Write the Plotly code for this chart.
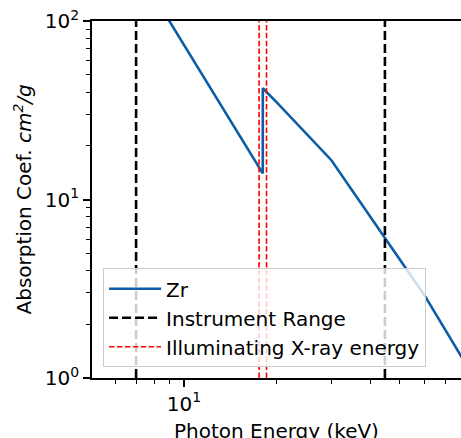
import plotly.graph_objects as go
import numpy as np

# Zr absorption curve
energy_kev = [8, 10, 15, 17.99, 18.0, 20, 30, 40, 50, 60, 80]
absorption = [138, 73.5, 23.5, 14.0, 42.0, 34.9, 16.6, 8.1, 4.6, 2.91, 1.27]

instrument_range = [7.0, 44.7]
illum_energy = [17.5, 18.5]

y_span = [1, 100]
x_range = [5.04, 78.8]

ytick_vals = [1, 10, 100]
ytick_text = ["10<sup>0</sup>", "10<sup>1</sup>", "10<sup>2</sup>"]
xtick_vals = [10]
xtick_text = ["10<sup>1</sup>"]
xminor = [6, 7, 8, 9, 20, 30, 40, 50, 60, 70]
yminor = [2, 3, 4, 5, 6, 7, 8, 9, 20, 30, 40, 50, 60, 70, 80, 90]

FONT = "DejaVu Sans"

fig = go.Figure()
fig.add_trace(go.Scatter(x=energy_kev, y=absorption, mode="lines", name="Zr",
                         line=dict(color="#0C5DA5", width=2.6)))
for i, e in enumerate(instrument_range):
    fig.add_trace(go.Scatter(x=[e, e], y=y_span, mode="lines", name="Instrument Range",
                             line=dict(color="black", width=2.6, dash="9px,4px"),
                             showlegend=(i == 0)))
for i, e in enumerate(illum_energy):
    fig.add_trace(go.Scatter(x=[e, e], y=y_span, mode="lines", name="Illuminating X-ray energy",
                             line=dict(color="red", width=1.6, dash="5.5px,2.4px"),
                             showlegend=(i == 0)))

axis_common = dict(
    type="log", showgrid=False, zeroline=False, showline=True, linecolor="black",
    linewidth=1.6, ticks="outside", ticklen=7, tickwidth=1.6, tickcolor="black",
    tickfont=dict(family=FONT, size=20, color="black"),
)

fig.update_xaxes(range=[np.log10(x_range[0]), np.log10(x_range[1])], tickmode="array",
                 tickvals=xtick_vals, ticktext=xtick_text, mirror=True,
                 minor=dict(tickvals=xminor, ticklen=4, tickwidth=1.2, tickcolor="black", ticks="outside"),
                 **axis_common)
fig.update_yaxes(range=[0, 2], tickmode="array", tickvals=ytick_vals, ticktext=ytick_text,
                 minor=dict(tickvals=yminor, ticklen=4, tickwidth=1.2, tickcolor="black", ticks="outside"),
                 **axis_common)

fig.add_annotation(text="Photon Energy (keV)", xref="paper", yref="paper", x=0.5, y=0,
                   yshift=-39, xanchor="center", yanchor="top", showarrow=False,
                   font=dict(family=FONT, size=20, color="black"))
fig.add_annotation(text="Absorption Coef. <i>cm<sup>2</sup>/g</i>", xref="paper", yref="paper",
                   x=0, xshift=-70, y=0.5, xanchor="center", yanchor="middle", textangle=-90,
                   showarrow=False, font=dict(family=FONT, size=20, color="black"))

fig.update_layout(
    width=461, height=438,
    margin=dict(l=92, r=0, t=21, b=60),
    plot_bgcolor="white", paper_bgcolor="white",
    font=dict(family=FONT, size=20, color="black"),
    legend=dict(x=0.03, y=0.03, xanchor="left", yanchor="bottom",
                bgcolor="rgba(255,255,255,0.8)", bordercolor="#cccccc", borderwidth=1,
                font=dict(family=FONT, size=20, color="black"), tracegroupgap=0,
                itemwidth=52, entrywidth=270, entrywidthmode="pixels"),
)

fig.write_html("out.html")
